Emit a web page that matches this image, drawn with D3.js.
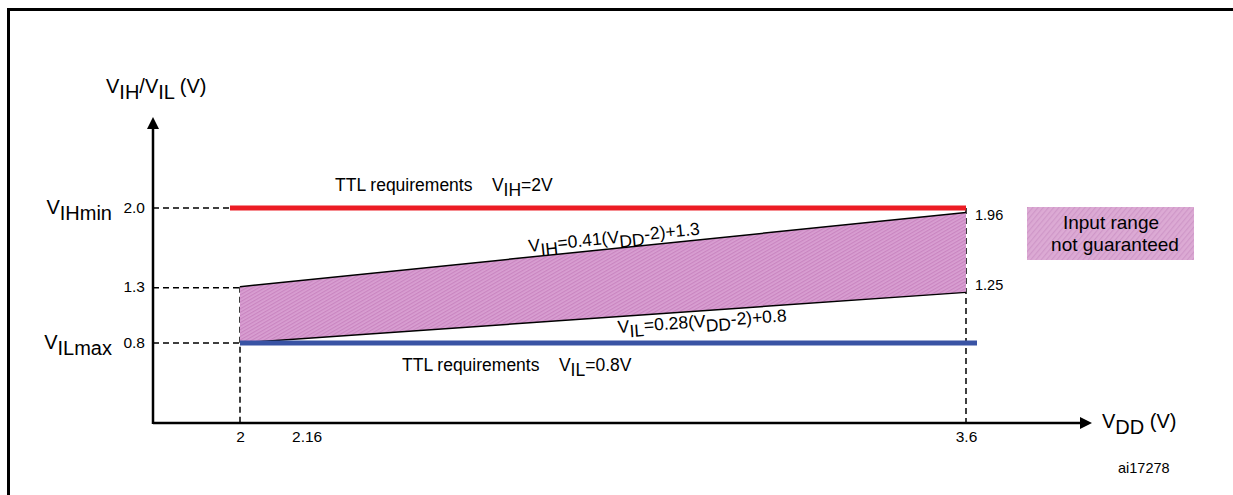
<!DOCTYPE html>
<html>
<head>
<meta charset="utf-8">
<script src="https://cdn.jsdelivr.net/npm/d3@7"></script>
<style>
  html, body { margin: 0; padding: 0; background: #fff; overflow: hidden; }
  svg { display: block; font-family: "Liberation Sans", Arial, Helvetica, sans-serif; }
</style>
</head>
<body>
<script>
// ---- Data ----
const vddPoints = [2, 3.6];            // V_DD range endpoints
const vihValues = [1.3, 1.96];         // V_IH = 0.41(V_DD-2)+1.3
const vilValues = [0.8, 1.25];         // V_IL = 0.28(V_DD-2)+0.8
const ttlVIH = 2.0;                    // TTL requirement V_IH
const ttlVIL = 0.8;                    // TTL requirement V_IL
const xTickValues = [2, 2.16, 3.6];
const xTickLabels = ["2", "2.16", "3.6"];
const yTickValues = [2.0, 1.3, 0.8];
const yTickLabels = ["2.0", "1.3", "0.8"];
const endLabels = ["1.96", "1.25"];

// ---- Layout ----
const W = 1233, H = 495;
const svg = d3.select("body").append("svg").attr("width", W).attr("height", H);

const x = d3.scaleLinear().domain([2, 3.6]).range([240, 966]);
const y = d3.scaleLinear().domain([0.8, 2.0]).range([343, 208]);
const originX = 153, originY = 423;

// frame
svg.append("path").attr("d", `M8.5,${H} V9.5 H${W}`).attr("fill", "none").attr("stroke", "#000").attr("stroke-width", 3);

const defs = svg.append("defs");
defs.append("marker").attr("id", "arr").attr("viewBox", "0 0 10 10")
  .attr("refX", 0).attr("refY", 5).attr("markerWidth", 12).attr("markerHeight", 12)
  .attr("markerUnits", "userSpaceOnUse").attr("orient", "auto")
  .append("path").attr("d", "M0,0 L10,5 L0,10 Z").attr("fill", "#000");

// hatch pattern
const pat = defs.append("pattern").attr("id", "hatch").attr("patternUnits", "userSpaceOnUse")
  .attr("width", 3).attr("height", 3).attr("patternTransform", "rotate(-30)");
pat.append("rect").attr("width", 3).attr("height", 3).attr("fill", "#d99fd2");
pat.append("rect").attr("width", 3).attr("height", 1.2).attr("fill", "#c985c0");

const pat2 = defs.append("pattern").attr("id", "hatch2").attr("patternUnits", "userSpaceOnUse")
  .attr("width", 4).attr("height", 4).attr("patternTransform", "rotate(-50)");
pat2.append("rect").attr("width", 4).attr("height", 4).attr("fill", "#dcaad4");
pat2.append("rect").attr("width", 4).attr("height", 1.2).attr("fill", "#cf97c8");

// dashed guide lines
const dash = "6,4";
const g = svg.append("g").attr("stroke", "#000").attr("stroke-width", 1.5).attr("stroke-dasharray", dash).attr("fill", "none");
g.append("line").attr("x1", originX).attr("x2", x(vddPoints[0]) - 10).attr("y1", y(ttlVIH)).attr("y2", y(ttlVIH));
g.append("line").attr("x1", originX).attr("x2", x(vddPoints[0])).attr("y1", y(vihValues[0]) + 1).attr("y2", y(vihValues[0]) + 1);
g.append("line").attr("x1", originX).attr("x2", x(vddPoints[0])).attr("y1", y(ttlVIL)).attr("y2", y(ttlVIL));
g.append("line").attr("x1", x(vddPoints[0])).attr("x2", x(vddPoints[0])).attr("y1", y(vihValues[0])).attr("y2", originY);
g.append("line").attr("x1", x(vddPoints[1])).attr("x2", x(vddPoints[1])).attr("y1", y(ttlVIH)).attr("y2", originY);

// band polygon
const bandPts = [
  [x(vddPoints[0]), y(vihValues[0])],
  [x(vddPoints[1]), y(vihValues[1])],
  [x(vddPoints[1]), y(vilValues[1])],
  [x(vddPoints[0]), y(vilValues[0])]
];
svg.append("path").attr("d", d3.line()(bandPts) + "Z").attr("fill", "url(#hatch)").attr("stroke", "none");
const edge = d3.line();
svg.append("path").attr("d", edge([bandPts[0], bandPts[1]])).attr("stroke", "#000").attr("stroke-width", 1.5).attr("fill", "none");
svg.append("path").attr("d", edge([bandPts[3], bandPts[2]])).attr("stroke", "#000").attr("stroke-width", 1.5).attr("fill", "none");

// TTL lines
svg.append("line").attr("x1", x(vddPoints[0]) - 10).attr("x2", x(vddPoints[1]))
  .attr("y1", y(ttlVIH)).attr("y2", y(ttlVIH)).attr("stroke", "#ec1c24").attr("stroke-width", 5);
svg.append("line").attr("x1", x(vddPoints[0])).attr("x2", x(vddPoints[1]) + 11)
  .attr("y1", y(ttlVIL)).attr("y2", y(ttlVIL)).attr("stroke", "#3953a4").attr("stroke-width", 5);

// axes lines with arrows
svg.append("line").attr("x1", originX).attr("y1", originY).attr("x2", 1080).attr("y2", originY)
  .attr("stroke", "#000").attr("stroke-width", 2.5).attr("marker-end", "url(#arr)");
svg.append("line").attr("x1", originX).attr("y1", originY + 1).attr("x2", originX).attr("y2", 129)
  .attr("stroke", "#000").attr("stroke-width", 2.5).attr("marker-end", "url(#arr)");

// axis tick labels via d3 axes
const xAxis = d3.axisBottom(x).tickValues(xTickValues).tickSize(0).tickPadding(8)
  .tickFormat((d, i) => xTickLabels[i]);
const gx = svg.append("g").attr("transform", `translate(0,${originY})`).call(xAxis)
  .attr("font-size", null).attr("font-family", null);
gx.select(".domain").remove();
gx.selectAll("text").style("font-size", "15.5px").attr("fill", "#000")
  .attr("dx", (d) => d === 2.16 ? -6 : 0);

const yAxis = d3.axisLeft(y).tickValues(yTickValues).tickSize(0).tickPadding(8)
  .tickFormat((d, i) => yTickLabels[i]);
const gy = svg.append("g").attr("transform", `translate(${originX},0)`).call(yAxis)
  .attr("font-size", null).attr("font-family", null);
gy.select(".domain").remove();
gy.selectAll("text").style("font-size", "15.5px").attr("fill", "#000");

// helper for text with subscripts: parts = [[text, isSub], ...]
function subText(sel, parts, subDy) {
  parts.forEach(([t, s], i) => {
    const prev = i > 0 ? parts[i - 1][1] : false;
    let dy = 0;
    if (s && !prev) dy = subDy; else if (!s && prev) dy = -subDy;
    sel.append("tspan").attr("dy", dy).text(t);
  });
  return sel;
}

// left large labels
subText(svg.append("text").attr("x", 112).attr("y", 214).attr("font-size", 20).attr("text-anchor", "end"),
  [["V", false], ["IHmin", true]], 6);
subText(svg.append("text").attr("x", 112).attr("y", 349).attr("font-size", 20).attr("text-anchor", "end"),
  [["V", false], ["ILmax", true]], 6);

// y-axis title
subText(svg.append("text").attr("x", 106).attr("y", 93).attr("font-size", 20),
  [["V", false], ["IH", true], ["/V", false], ["IL", true], [" (V)", false]], 6);
// x-axis title
subText(svg.append("text").attr("x", 1102).attr("y", 428).attr("font-size", 20),
  [["V", false], ["DD", true], [" (V)", false]], 6);

// right end labels
svg.append("text").attr("x", x(vddPoints[1]) + 9).attr("y", y(vihValues[1]) + 7).attr("font-size", 14.5).text(endLabels[0]);
svg.append("text").attr("x", x(vddPoints[1]) + 9).attr("y", y(vilValues[1]) - 2).attr("font-size", 14.5).text(endLabels[1]);

// TTL labels
subText(svg.append("text").attr("x", 335).attr("y", 191).attr("font-size", 17.5).attr("xml:space", "preserve"),
  [["TTL requirements    V", false], ["IH", true], ["=2V", false]], 5);
subText(svg.append("text").attr("x", 402).attr("y", 371).attr("font-size", 17.5).attr("xml:space", "preserve"),
  [["TTL requirements    V", false], ["IL", true], ["=0.8V", false]], 5);

// formula labels (rotated along edges)
const angTop = Math.atan2(bandPts[1][1] - bandPts[0][1], bandPts[1][0] - bandPts[0][0]) * 180 / Math.PI;
const angBot = Math.atan2(bandPts[2][1] - bandPts[3][1], bandPts[2][0] - bandPts[3][0]) * 180 / Math.PI;
subText(svg.append("text").attr("transform", `translate(529,252) rotate(${angTop})`).attr("font-size", 17.5),
  [["V", false], ["IH", true], ["=0.41(V", false], ["DD", true], ["-2)+1.3", false]], 5);
subText(svg.append("text").attr("transform", `translate(618,333) rotate(${angBot})`).attr("font-size", 17.5),
  [["V", false], ["IL", true], ["=0.28(V", false], ["DD", true], ["-2)+0.8", false]], 5);

// legend box
svg.append("rect").attr("x", 1027).attr("y", 207).attr("width", 167).attr("height", 53).attr("fill", "url(#hatch2)");
svg.append("text").attr("x", 1111).attr("y", 229).attr("font-size", 19).attr("text-anchor", "middle").text("Input range");
svg.append("text").attr("x", 1115).attr("y", 251).attr("font-size", 19).attr("text-anchor", "middle").text("not guaranteed");

// figure id
svg.append("text").attr("x", 1118).attr("y", 473).attr("font-size", 14.5).text("ai17278");
</script>
</body>
</html>
